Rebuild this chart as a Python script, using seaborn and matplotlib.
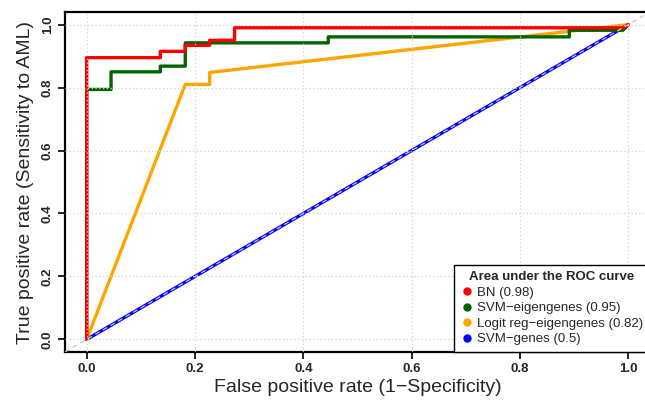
import numpy as np
import pandas as pd
import seaborn as sns
import matplotlib.pyplot as plt
from matplotlib.lines import Line2D

# ROC curve vertices
bn_fpr = [0, 0, 0.136, 0.136, 0.182, 0.182, 0.227, 0.227, 0.273, 0.273, 0.99, 1.0]
bn_tpr = [0, 0.895, 0.895, 0.915, 0.915, 0.934, 0.934, 0.950, 0.950, 0.990, 0.990, 1.0]

svm_eig_fpr = [0, 0, 0.045, 0.045, 0.136, 0.136, 0.182, 0.182, 0.446, 0.446, 0.891, 0.891, 0.99, 1.0]
svm_eig_tpr = [0, 0.794, 0.794, 0.850, 0.850, 0.868, 0.868, 0.942, 0.942, 0.961, 0.961, 0.982, 0.982, 1.0]

logit_fpr = [0, 0.182, 0.227, 0.227, 1.0]
logit_tpr = [0, 0.810, 0.810, 0.848, 1.0]

svm_genes_fpr = [0, 0.99]
svm_genes_tpr = [0, 0.99]

labels = ["BN (0.98)", "SVM\u2212eigengenes (0.95)",
          "Logit reg\u2212eigengenes (0.82)", "SVM\u2212genes (0.5)"]
colors = ["#ff0000", "#006400", "#ffa500", "#0000ff"]
ticks = [0.0, 0.2, 0.4, 0.6, 0.8, 1.0]

sns.set_style("white")
plt.rcParams['font.family'] = ['Liberation Sans', 'DejaVu Sans']

fig = plt.figure(figsize=(6.45, 4.0), dpi=100)
ax = fig.add_axes([65 / 645, 48 / 400, 585 / 645, 340 / 400])

curves = [(bn_fpr, bn_tpr), (svm_eig_fpr, svm_eig_tpr),
          (logit_fpr, logit_tpr), (svm_genes_fpr, svm_genes_tpr)]
# draw the worst curve first so the better ones sit on top
for (fpr, tpr), col in reversed(list(zip(curves, colors))):
    d = pd.DataFrame({"fpr": fpr, "tpr": tpr})
    sns.lineplot(data=d, x="fpr", y="tpr", sort=False, estimator=None,
                 color=col, linewidth=2.4, ax=ax)

# chance diagonal
ax.plot([-0.04, 1.04], [-0.04, 1.04], color="#c8c8c8", linestyle=(0, (4, 3)),
        linewidth=0.9, zorder=3)

ax.set_xlim(-0.04, 1.04)
ax.set_ylim(-0.04, 1.04)
ax.set_xticks(ticks)
ax.set_yticks(ticks)
ax.set_xticklabels([f"{t:.1f}" for t in ticks], fontsize=9.5, fontweight="bold")
ax.set_yticklabels([f"{t:.1f}" for t in ticks], fontsize=9.5, fontweight="bold",
                   rotation=90, va="center")
ax.tick_params(axis="both", direction="out", length=5, width=1.2, color="black",
               left=True, bottom=True, pad=3)

ax.grid(True, color="#d3d3d3", linestyle=(0, (1, 2)), linewidth=0.9)
ax.set_axisbelow(False)

for s in ax.spines.values():
    s.set_color("black")
    s.set_linewidth(1.6)

ax.set_xlabel("False positive rate (1\u2212Specificity)", fontsize=14, labelpad=3)
ax.set_ylabel("True positive rate (Sensitivity to AML)", fontsize=14, labelpad=6)

handles = [Line2D([], [], marker="o", linestyle="none", color=c, markersize=5)
           for c in colors]
leg = ax.legend(handles, labels, title="Area under the ROC curve",
                loc="lower right", borderaxespad=0, fontsize=9.5,
                title_fontproperties={"weight": "bold", "size": 9.5},
                frameon=True, fancybox=False, handletextpad=0.3,
                handlelength=1.0, labelspacing=0.25, borderpad=0.5)
leg.get_frame().set_edgecolor("black")
leg.get_frame().set_linewidth(1.0)
leg.get_frame().set_alpha(1)
leg.set_zorder(5)

fig.savefig("out.png", dpi=100)
